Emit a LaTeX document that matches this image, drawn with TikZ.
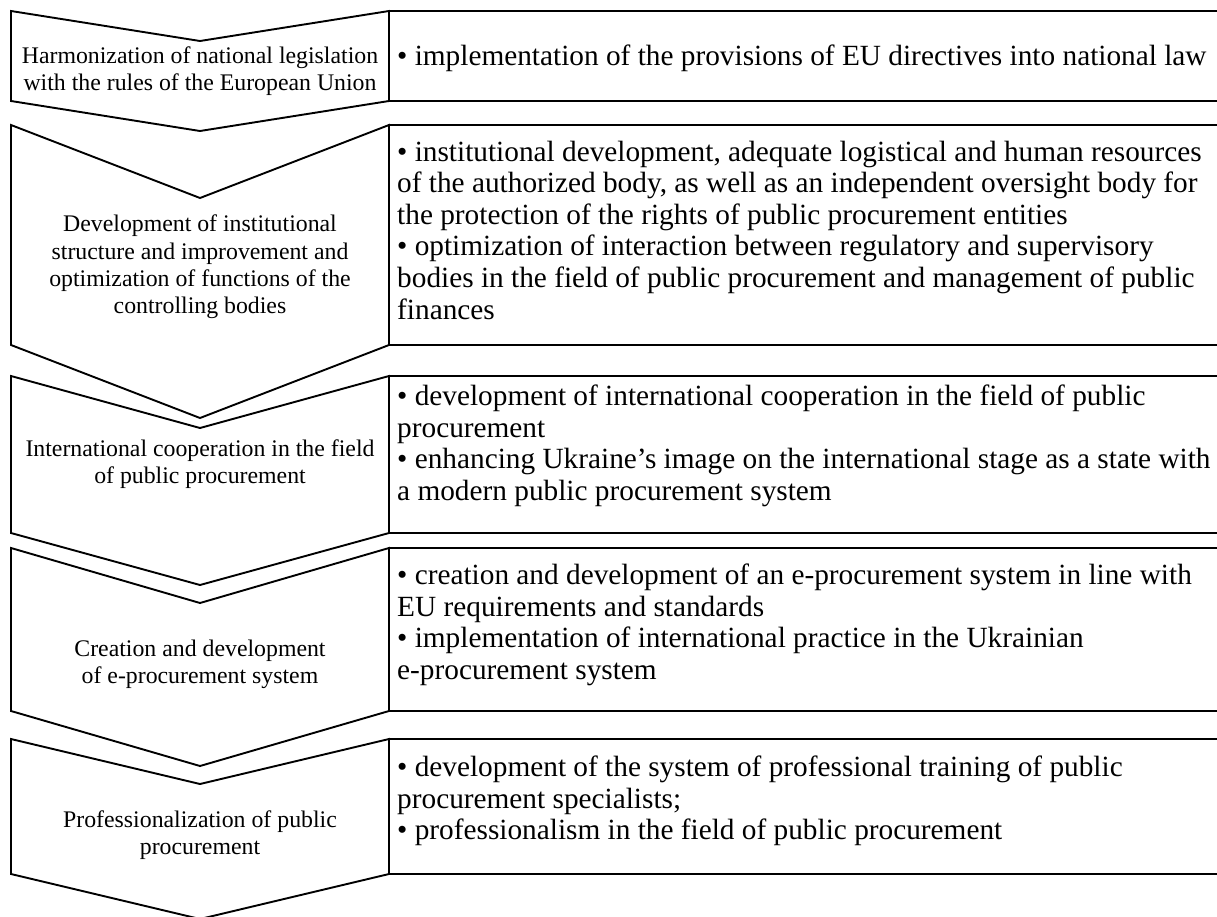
\documentclass[tikz,border=0pt]{standalone}
\usepackage{fontspec}
\setmainfont{Liberation Serif}
\begin{document}
\begin{tikzpicture}[x=1pt,y=-1pt,
  chev/.style={draw=black,line width=1.9pt,line join=miter,fill=white},
  rbox/.style={draw=black,line width=1.9pt},
  ltext/.style={align=center,inner sep=0pt,font=\fontsize{23.8}{27.4}\selectfont},
  rtext/.style={align=left,inner sep=0pt,anchor=west,font=\fontsize{29.3}{31.6}\selectfont}]
\useasboundingbox (0,0) rectangle (1217,916);
% chevrons: top, bottom, depth
\foreach \t/\b/\d/\n in {11/101/30/1,125/345/73/2,376/533/52/3,548/711/55/4,739/874/45/5}{
  \draw[chev] (11,\t) -- (200,\t+\d) -- (389,\t) -- (389,\b) -- (200,\b+\d) -- (11,\b) -- cycle;
  \draw[rbox] (1230,\t) -- (389,\t) -- (389,\b) -- (1230,\b);
}
\node[ltext] (c1) at (200,71) {Harmonization of national legislation\\with the rules of the European Union};
\node[ltext] (c2) at (200,267) {Development of institutional\\structure and improvement and\\optimization of functions of the\\controlling bodies};
\node[ltext] (c3) at (200,464) {International cooperation in the field\\of public procurement};
\node[ltext] (c4) at (200,664) {Creation and development\\of e-procurement system};
\node[ltext] (c5) at (200,835) {Professionalization of public\\procurement};
\node[rtext] (r1) at (397,58) {• implementation of the provisions of EU directives into national law};
\node[rtext] (r2) at (397,230) {• institutional development, adequate logistical and human resources\\of the authorized body, as well as an independent oversight body for\\the protection of the rights of public procurement entities\\• optimization of interaction between regulatory and supervisory\\bodies in the field of public procurement and management of public\\finances};
\node[rtext] (r3) at (397,446) {• development of international cooperation in the field of public\\procurement\\• enhancing Ukraine's image on the international stage as a state with\\a modern public procurement system};
\node[rtext] (r4) at (397,625) {• creation and development of an e-procurement system in line with\\EU requirements and standards\\• implementation of international practice in the Ukrainian\\e-procurement system};
\node[rtext] (r5) at (397,801) {• development of the system of professional training of public\\procurement specialists;\\• professionalism in the field of public procurement};
\end{tikzpicture}
\end{document}
